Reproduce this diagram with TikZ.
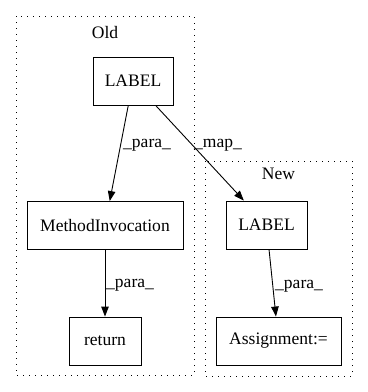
\documentclass[tikz,border=0pt]{standalone}
\usepackage{fontspec}
\setmainfont{Liberation Serif}
\usetikzlibrary{arrows.meta}
\begin{document}
\begin{tikzpicture}[x=1bp,y=-1bp,
  every node/.style={font=\fontsize{17.6}{20}\selectfont},
  box/.style={draw, line width=0.9bp, inner sep=0pt, minimum height=48bp},
  cluster/.style={draw, line width=1bp, dash pattern=on 1.2bp off 4.8bp},
  edge/.style={draw, line width=0.9bp, -{Triangle[length=10bp,width=7.5bp]}},
  elabel/.style={anchor=west, inner sep=0pt}]
\useasboundingbox (0,0) rectangle (368,392);
% clusters
\draw[cluster] (16,16) rectangle (194,375);
\node (oldtitle) at (105,32) {Old};
\draw[cluster] (205,161) rectangle (352,376);
\node (newtitle) at (278.5,174) {New};
% nodes
\node[box, minimum width=80bp] (oldlabel) at (133,81) {LABEL};
\node[box, minimum width=156bp] (mi) at (105,225.5) {MethodInvocation};
\node[box, minimum width=72bp] (ret) at (105,341) {return};
\node[box, minimum width=81bp] (newlabel) at (266.5,225) {LABEL};
\node[box, minimum width=125bp] (assign) at (278.5,341) {Assignment:=};
% edges
\draw[edge] (oldlabel) -- (mi);
\draw[edge] (mi) -- (ret);
\draw[edge] (oldlabel) -- (newlabel);
\draw[edge] (newlabel) -- (assign);
% edge labels
\node[elabel] (l1) at (123,145) {\_para\_};
\node[elabel] (l2) at (106,285) {\_para\_};
\node[elabel] (l3) at (194,145) {\_map\_};
\node[elabel] (l4) at (275,286) {\_para\_};
\end{tikzpicture}
\end{document}
